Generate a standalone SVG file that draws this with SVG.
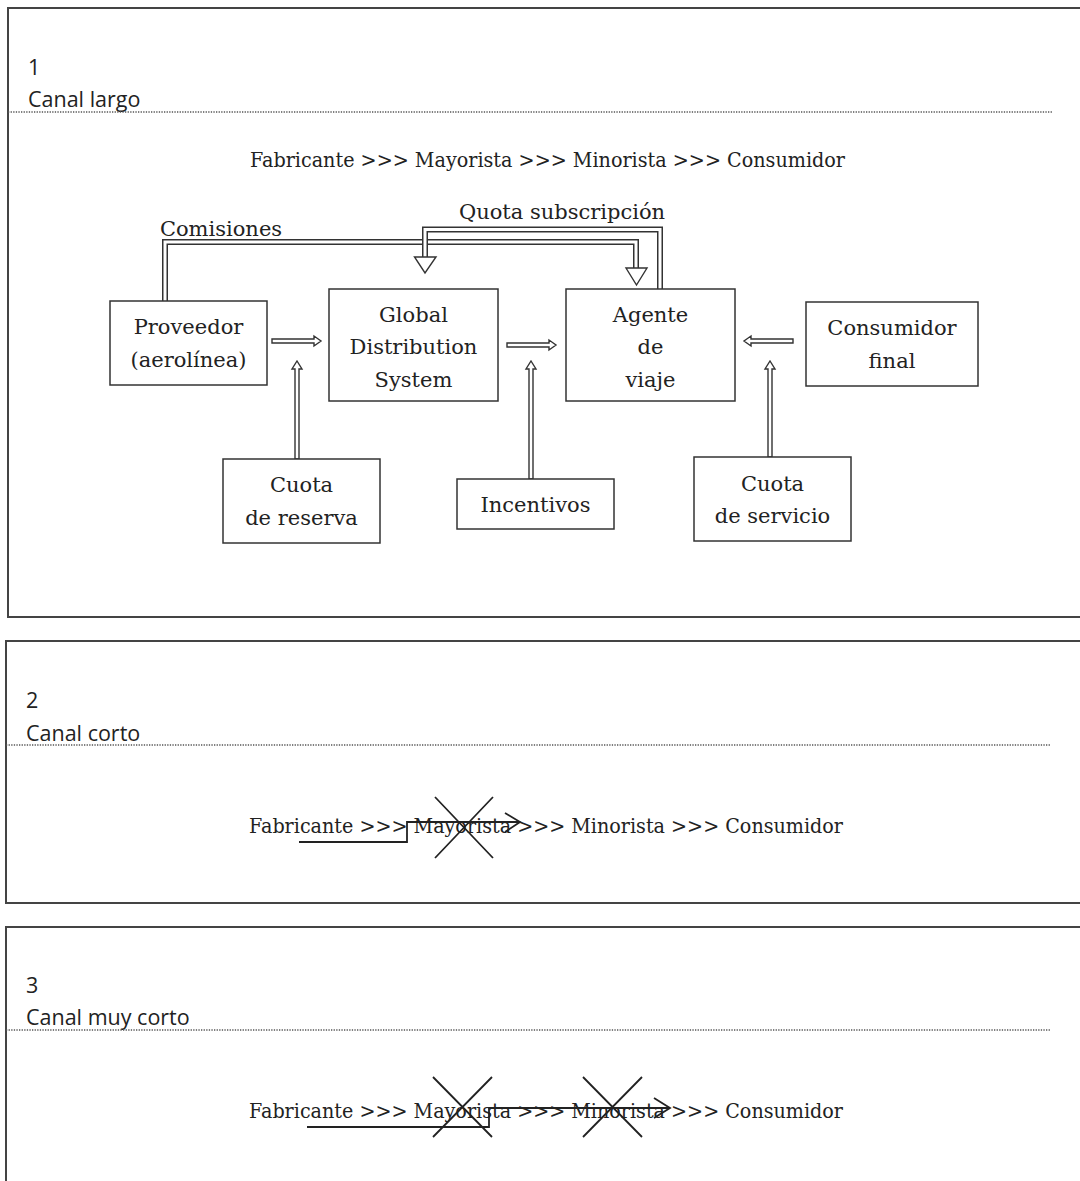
<svg xmlns="http://www.w3.org/2000/svg" width="1080" height="1181" viewBox="0 0 1080 1181">
<style>
.panel{fill:none;stroke:#444;stroke-width:2}
.dot{stroke:#555;stroke-width:1.3;stroke-dasharray:1.3 1.3}
.hd{font-family:"Open Sans","Liberation Sans",sans-serif;font-size:21.5px;fill:#222}
.sf{font-family:"DejaVu Serif","Liberation Serif",serif;font-size:21px;fill:#222}
.box{fill:#fff;stroke:#333;stroke-width:1.5}
.ha{fill:#fff;stroke:#333;stroke-width:1.4;stroke-linejoin:miter}
.outer{fill:none;stroke:#333;stroke-width:6;stroke-linejoin:miter}
.inner{fill:none;stroke:#fff;stroke-width:3;stroke-linejoin:miter}
.ln{fill:none;stroke:#222;stroke-width:1.8}
</style>
<rect width="1080" height="1181" fill="#fff"/>
<g id="panel1">
<path class="panel" d="M1082 8 H8 V617 H1082"/>
<text class="hd" x="28" y="75">1</text>
<text class="hd" x="28" y="107">Canal largo</text>
<line class="dot" x1="8" y1="112" x2="1053" y2="112"/>
<text class="sf" x="250" y="167" textLength="595" lengthAdjust="spacingAndGlyphs">Fabricante &gt;&gt;&gt; Mayorista &gt;&gt;&gt; Minorista &gt;&gt;&gt; Consumidor</text>
</g>
<g id="connectors">
<path class="outer" d="M165 301 V242 H636 V268"/>
<path class="inner" d="M165 303 V242 H636 V270"/>
<path class="ha" d="M626 268 H647 L636.5 285 Z"/>
<path class="outer" d="M660 289 V229.5 H425 V257"/>
<path class="inner" d="M660 291 V229.5 H425 V259"/>
<path class="ha" d="M414.5 257 H436 L425 273 Z"/>
<text class="sf" x="562" y="219" text-anchor="middle">Quota subscripción</text>
<text class="sf" x="221" y="236" text-anchor="middle">Comisiones</text>
<path class="ha" d="M272 339 H314 V336 L321 341 L314 346 V343 H272 Z"/>
<path class="ha" d="M507 343 H549 V340 L556 345 L549 350 V347 H507 Z"/>
<path class="ha" d="M793 339 H751 V336 L744 341 L751 346 V343 H793 Z"/>
<path class="ha" d="M295 459 V369 H292 L297 361 L302 369 H299 V459 Z"/>
<path class="ha" d="M529 479 V369 H526 L531 361 L536 369 H533 V479 Z"/>
<path class="ha" d="M768 457 V369 H765 L770 361 L775 369 H772 V457 Z"/>
</g>
<g id="proveedor">
<rect class="box" x="110" y="301" width="157" height="84"/>
<text class="sf" x="188.5" y="334" text-anchor="middle">Proveedor</text>
<text class="sf" x="188.5" y="367" text-anchor="middle">(aerolínea)</text>
</g>
<g id="gds">
<rect class="box" x="329" y="289" width="169" height="112"/>
<text class="sf" x="413.5" y="322" text-anchor="middle">Global</text>
<text class="sf" x="413.5" y="354" text-anchor="middle">Distribution</text>
<text class="sf" x="413.5" y="387" text-anchor="middle">System</text>
</g>
<g id="agente">
<rect class="box" x="566" y="289" width="169" height="112"/>
<text class="sf" x="650.5" y="322" text-anchor="middle">Agente</text>
<text class="sf" x="650.5" y="354" text-anchor="middle">de</text>
<text class="sf" x="650.5" y="387" text-anchor="middle">viaje</text>
</g>
<g id="consumidor">
<rect class="box" x="806" y="302" width="172" height="84"/>
<text class="sf" x="892" y="335" text-anchor="middle">Consumidor</text>
<text class="sf" x="892" y="368" text-anchor="middle">final</text>
</g>
<g id="cuota-reserva">
<rect class="box" x="223" y="459" width="157" height="84"/>
<text class="sf" x="301.5" y="492" text-anchor="middle">Cuota</text>
<text class="sf" x="301.5" y="525" text-anchor="middle">de reserva</text>
</g>
<g id="incentivos">
<rect class="box" x="457" y="479" width="157" height="50"/>
<text class="sf" x="535.5" y="512" text-anchor="middle">Incentivos</text>
</g>
<g id="cuota-servicio">
<rect class="box" x="694" y="457" width="157" height="84"/>
<text class="sf" x="772.5" y="491" text-anchor="middle">Cuota</text>
<text class="sf" x="772.5" y="523" text-anchor="middle">de servicio</text>
</g>
<g id="panel2">
<path class="panel" d="M1082 641 H6 V903 H1082"/>
<text class="hd" x="26" y="708">2</text>
<text class="hd" x="26" y="741">Canal corto</text>
<line class="dot" x1="6" y1="745" x2="1051" y2="745"/>
<text class="sf" x="249" y="833" textLength="594" lengthAdjust="spacingAndGlyphs">Fabricante &gt;&gt;&gt; Mayorista &gt;&gt;&gt; Minorista &gt;&gt;&gt; Consumidor</text>
<path class="ln" d="M299 842 H407 V822 H520 M505 813 L520 822 L505 832"/>
<path class="ln" d="M435 797 L493 858 M493 797 L435 858"/>
</g>
<g id="panel3">
<path class="panel" d="M1082 927 H6 V1183"/>
<text class="hd" x="26" y="993">3</text>
<text class="hd" x="26" y="1025">Canal muy corto</text>
<line class="dot" x1="6" y1="1030" x2="1051" y2="1030"/>
<text class="sf" x="249" y="1118" textLength="594" lengthAdjust="spacingAndGlyphs">Fabricante &gt;&gt;&gt; Mayorista &gt;&gt;&gt; Minorista &gt;&gt;&gt; Consumidor</text>
<path class="ln" d="M307 1127 H489 V1108 H670 M654 1098 L670 1108 L654 1118"/>
<path class="ln" d="M433 1077 L492 1137 M492 1077 L433 1137"/>
<path class="ln" d="M583 1077 L642 1137 M642 1077 L583 1137"/>
</g>
</svg>
